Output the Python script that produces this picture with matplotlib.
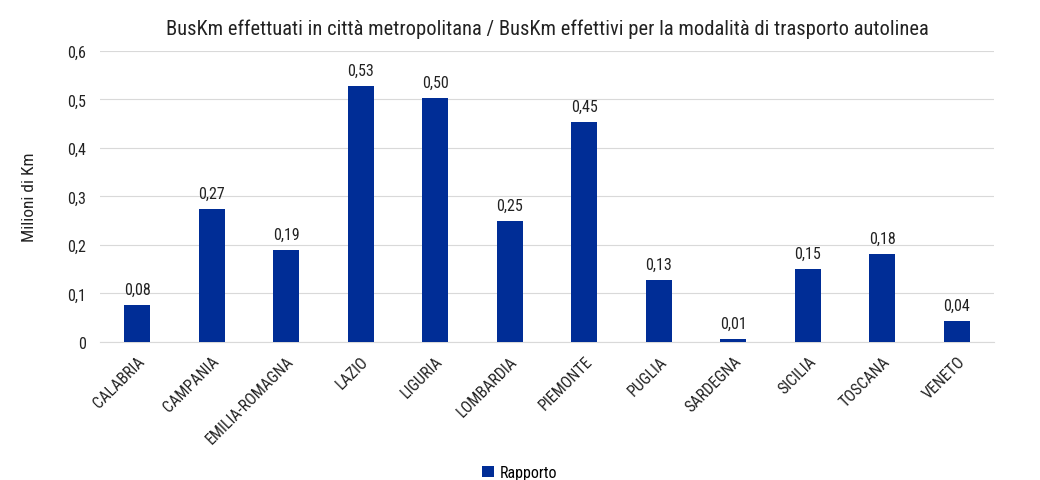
import matplotlib
matplotlib.use("Agg")
import matplotlib.pyplot as plt

regions = ["CALABRIA", "CAMPANIA", "EMILIA-ROMAGNA", "LAZIO", "LIGURIA", "LOMBARDIA",
           "PIEMONTE", "PUGLIA", "SARDEGNA", "SICILIA", "TOSCANA", "VENETO"]
rapporto = [0.076, 0.274, 0.189, 0.527, 0.502, 0.249, 0.454, 0.128, 0.006, 0.151, 0.181, 0.043]
labels = ["0,08", "0,27", "0,19", "0,53", "0,50", "0,25", "0,45", "0,13", "0,01", "0,15", "0,18", "0,04"]
yticks = [0, 0.1, 0.2, 0.3, 0.4, 0.5, 0.6]
ytick_labels = ["0", "0,1", "0,2", "0,3", "0,4", "0,5", "0,6"]

plt.rcParams["font.family"] = ["Roboto Condensed", "Archivo Narrow", "DejaVu Sans"]

fig = plt.figure(figsize=(10.4, 4.81), dpi=100)
ax = fig.add_axes([0.096, 0.287, 0.86, 0.605])

x = list(range(len(regions)))
bars = ax.bar(x, rapporto, width=0.35, color="#002D96", label="Rapporto", zorder=3)
for xi, v, lab in zip(x, rapporto, labels):
    ax.text(xi, v + 0.017, lab, ha="center", va="bottom", fontsize=11.5, color="#222222")

ax.set_xlim(-0.5, len(regions) - 0.5)
ax.set_ylim(0, 0.6)
ax.set_yticks(yticks)
ax.set_yticklabels(ytick_labels, fontsize=11.5, color="#222222")
ax.set_xticks(x)
ax.set_xticklabels(regions, rotation=45, ha="right", rotation_mode="anchor", fontsize=11.5, color="#222222")
ax.tick_params(axis="y", length=0, pad=10)
ax.tick_params(axis="x", length=0, pad=8)
ax.grid(axis="y", color="#d9d9d9", linewidth=0.8, zorder=0)
for s in ["top", "right", "left"]:
    ax.spines[s].set_visible(False)
ax.spines["bottom"].set_color("#d9d9d9")
ax.set_ylabel("Milioni di Km", fontsize=12.5, labelpad=22, color="#222222")
ax.set_title("BusKm effettuati in città metropolitana / BusKm effettivi per la modalità di trasporto autolinea",
             fontsize=14.8, pad=12, color="#222222")

fig.legend(handles=[bars], labels=["Rapporto"], loc="lower center", bbox_to_anchor=(0.5, -0.03),
           frameon=False, fontsize=11.5, handlelength=0.7, handleheight=0.7, handletextpad=0.4)

fig.savefig("out.png", dpi=100, facecolor="white")
